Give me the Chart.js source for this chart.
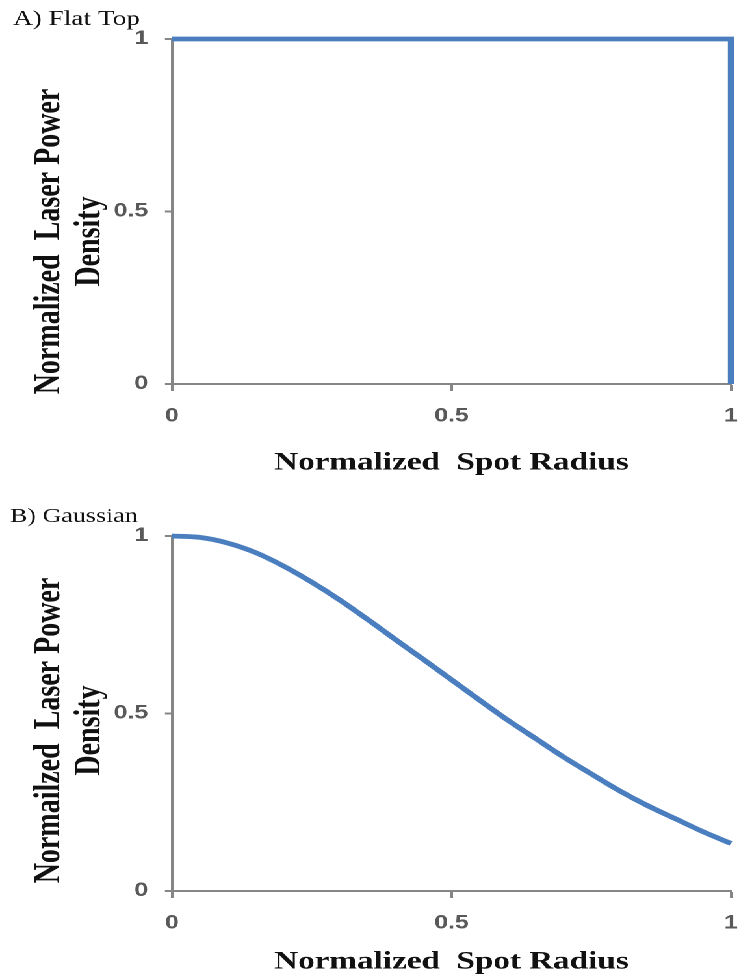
<!DOCTYPE html>
<html>
<head>
<title>Laser Beam Profiles</title>
<script src="https://cdn.jsdelivr.net/npm/chart.js"></script>
<style>
  body { margin: 0; background: #fff; }
  /* the figure is laid out narrow and widened 1.3x, like the exported plot */
  #stage { position: absolute; left: 0; top: 0; width: 570px; height: 979px; transform: scaleX(1.3); transform-origin: 0 0; }
  .panel { position: absolute; left: 0; width: 570px; }
</style>
</head>
<body>
<div id="stage">
  <div class="panel" style="top:0;height:490px"><canvas id="flatTop"></canvas></div>
  <div class="panel" style="top:490px;height:489px"><canvas id="gaussian"></canvas></div>
</div>

<script>
// A) flat top profile
const flatRadius = [0, 1, 1];
const flatDensity = [1, 1, 0];

// B) gaussian profile
const gaussRadius = [0, 0.05, 0.1, 0.15, 0.2, 0.25, 0.3, 0.35, 0.4, 0.45, 0.5,
                     0.55, 0.6, 0.65, 0.7, 0.75, 0.8, 0.85, 0.9, 0.95, 1];
const gaussDensity = [1.000, 0.996, 0.980, 0.953, 0.915, 0.870, 0.820, 0.765, 0.708, 0.652, 0.595,
                      0.538, 0.482, 0.430, 0.378, 0.330, 0.283, 0.241, 0.204, 0.167, 0.134];

const xTickValues = [0, 0.5, 1];
const yTickValues = [0, 0.5, 1];

const BLUE = '#4A7EBF';
const AXIS = '#868686';
const TICK_TEXT = '#595959';

// panel letter and the two-line y title, drawn beside the plot area
const panelText = {
  id: 'panelText',
  afterDraw(chart, args, opts) {
    const { ctx, chartArea } = chart;
    ctx.save();
    ctx.fillStyle = '#111';
    ctx.font = opts.labelSize + 'px "Liberation Serif"';
    ctx.textAlign = 'left';
    ctx.textBaseline = 'alphabetic';
    ctx.fillText(opts.label, opts.labelX, opts.labelY);

    ctx.translate(opts.titleX, (chartArea.top + chartArea.bottom) / 2 + opts.titleShift);
    ctx.rotate(-Math.PI / 2);
    ctx.font = 'bold 28px "Liberation Serif"';
    ctx.textAlign = 'center';
    ctx.textBaseline = 'middle';
    opts.title.forEach((line, i) => ctx.fillText(line, 0, i * 30.8));
    ctx.restore();
  }
};

const tickFont = { family: 'Liberation Sans', weight: 'bold', size: 19 };

function makeChart(id, radius, density, cfg) {
  return new Chart(document.getElementById(id), {
    type: 'line',
    data: {
      datasets: [{
        data: radius.map((r, i) => ({ x: r, y: density[i] })),
        borderColor: BLUE,
        borderWidth: 4.8,
        pointRadius: 0,
        fill: false,
        clip: 6,
        cubicInterpolationMode: cfg.smooth ? 'monotone' : 'default'
      }]
    },
    options: {
      responsive: true,
      maintainAspectRatio: false,
      animation: false,
      devicePixelRatio: 2,
      layout: { padding: { top: cfg.top, right: 7.7, left: 0, bottom: 0 } },
      plugins: {
        legend: { display: false },
        tooltip: { enabled: false },
        panelText: cfg.text
      },
      scales: {
        x: {
          type: 'linear', min: 0, max: 1,
          afterBuildTicks: s => { s.ticks = xTickValues.map(v => ({ value: v })); },
          afterFit: s => {
            s.height = cfg.xHeight;
            // keep the plot edges fixed, the end labels fit in the margins
            s.paddingLeft = 0;
            s.paddingRight = 0;
          },
          grid: { drawOnChartArea: false, drawTicks: true, tickLength: 7, tickColor: AXIS, tickWidth: 2 },
          border: { color: AXIS, width: 2 },
          ticks: { color: TICK_TEXT, padding: 14, font: tickFont, callback: v => String(v) },
          title: {
            display: true,
            text: 'Normalized  Spot Radius',
            color: '#111',
            font: { family: 'Liberation Serif', weight: 'bold', size: 25.5, lineHeight: 1.2 },
            padding: { top: 0, bottom: cfg.xTitlePad }
          }
        },
        y: {
          min: 0, max: 1,
          afterBuildTicks: s => { s.ticks = yTickValues.map(v => ({ value: v })); },
          afterFit: s => { s.width = 132.3; },
          grid: { drawOnChartArea: false, drawTicks: true, tickLength: 5.4, tickColor: AXIS, tickWidth: 2 },
          border: { color: AXIS, width: 2 },
          ticks: { color: TICK_TEXT, padding: 13, font: tickFont, callback: v => String(v) }
        }
      }
    },
    plugins: [panelText]
  });
}

makeChart('flatTop', flatRadius, flatDensity, {
  smooth: false, top: 39, xHeight: 106, xTitlePad: 12,
  text: { label: 'A) Flat Top', labelSize: 21, labelX: 10, labelY: 25,
          title: ['Normalized  Laser Power', 'Density'], titleX: 38.5, titleShift: 30 }
});

makeChart('gaussian', gaussRadius, gaussDensity, {
  smooth: true, top: 46, xHeight: 88, xTitlePad: 2,
  text: { label: 'B) Gaussian', labelSize: 20, labelX: 7.7, labelY: 32,
          title: ['Normailzed  Laser Power', 'Density'], titleX: 38.5, titleShift: 17 }
});
</script>
</body>
</html>
